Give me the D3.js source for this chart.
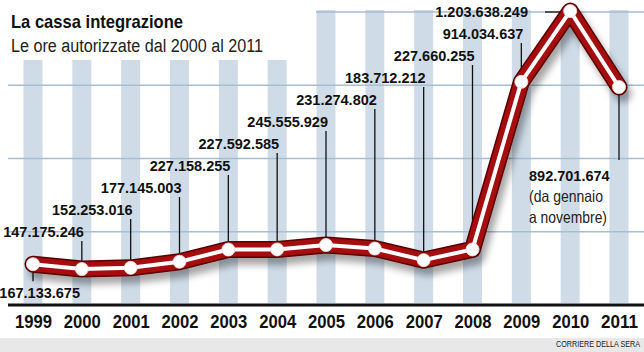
<!DOCTYPE html>
<html>
<head>
<meta charset="utf-8">
<script src="https://cdn.jsdelivr.net/npm/d3@7"></script>
<style>
  body { margin: 0; background: #fff; }
  svg { display: block; }
</style>
</head>
<body>
<div id="chart"></div>
<script>
// data
var years = [1999, 2000, 2001, 2002, 2003, 2004, 2005, 2006, 2007, 2008, 2009, 2010, 2011]
var hours = [167133675, 147175246, 152253016, 177145003, 227158255, 227592585, 245555929,
             231274802, 183712212, 227660255, 914034637, 1203638249, 892701674]
var labels = ['167.133.675', '147.175.246', '152.253.016', '177.145.003', '227.158.255', '227.592.585',
              '245.555.929', '231.274.802', '183.712.212', '227.660.255', '914.034.637', '1.203.638.249', '892.701.674']
var gridTicks = [300000000, 600000000, 900000000, 1200000000]
var title = 'La cassa integrazione'
var subtitle = 'Le ore autorizzate dal 2000 al 2011'
var note = ['(da gennaio', 'a novembre)']
var source = 'CORRIERE DELLA SERA'

var W = 644, H = 352
var FONT = '"Liberation Sans", Arial, sans-serif'

var svg = d3.select('#chart').append('svg')
  .attr('width', W).attr('height', H)

var defs = svg.append('defs')
var f = defs.append('filter').attr('id', 'shadow')
  .attr('x', '-10%').attr('y', '-10%').attr('width', '130%').attr('height', '140%')
f.append('feDropShadow').attr('dx', 4).attr('dy', 7).attr('stdDeviation', 3.5)
  .attr('flood-color', '#000').attr('flood-opacity', 0.35)

var x = d3.scalePoint().domain(years).range([33, 619])
var y = d3.scaleLinear().domain([0, 1200000000]).range([305, 12])

// light blue columns behind each year
svg.append('g').selectAll('rect')
  .data(years)
  .enter().append('rect')
    .attr('x', function(d) { return x(d) - 9.5 })
    .attr('y', 10)
    .attr('width', 19)
    .attr('height', y(0) - 12)
    .attr('fill', '#cfdce8')

// gridlines
svg.append('g').selectAll('line')
  .data(gridTicks)
  .enter().append('line')
    .attr('x1', 8).attr('x2', W)
    .attr('y1', function(d) { return y(d) })
    .attr('y2', function(d) { return y(d) })
    .attr('stroke', '#a7bdd2')
    .attr('stroke-width', 1.6)

// white box behind the titles
svg.append('rect').attr('x', 0).attr('y', 0).attr('width', 316).attr('height', 60).attr('fill', '#fff')

svg.append('text').attr('x', 11).attr('y', 28)
  .attr('font-family', FONT).attr('font-weight', 'bold').attr('font-size', 19)
  .attr('textLength', 172).attr('lengthAdjust', 'spacingAndGlyphs')
  .attr('fill', '#111').text(title)
svg.append('text').attr('x', 11).attr('y', 52)
  .attr('font-family', FONT).attr('font-size', 18)
  .attr('textLength', 252).attr('lengthAdjust', 'spacingAndGlyphs')
  .attr('fill', '#222').text(subtitle)

// baseline
svg.append('line').attr('x1', 8).attr('x2', W)
  .attr('y1', y(0)).attr('y2', y(0))
  .attr('stroke', '#111').attr('stroke-width', 3)

// year axis
var xAxis = svg.append('g')
  .attr('transform', 'translate(0,' + (y(0) + 2) + ')')
  .call(d3.axisBottom(x).tickSize(0).tickPadding(8).tickFormat(d3.format('d')))
xAxis.select('.domain').remove()
xAxis.selectAll('text')
  .attr('font-family', FONT).attr('font-weight', 'bold').attr('font-size', 18.5)
  .attr('textLength', 37).attr('lengthAdjust', 'spacingAndGlyphs')
  .attr('fill', '#111')

// leader lines and value labels
var pts = years.map(function(d, i) { return { year: d, v: hours[i], lab: labels[i], i: i } })
var lead = svg.append('g').attr('stroke', '#111').attr('stroke-width', 1.3)
var labG = svg.append('g')
  .attr('font-family', FONT).attr('font-weight', 'bold').attr('font-size', 14.5).attr('fill', '#111')

pts.forEach(function(p) {
  var px = x(p.year), py = y(p.v)
  if (p.i == 0) {
    lead.append('line').attr('x1', px).attr('x2', px).attr('y1', py).attr('y2', py + 17)
    labG.append('text').attr('x', px + 47).attr('y', py + 34).attr('text-anchor', 'end').text(p.lab)
  } else if (p.i == years.length - 1) {
    lead.append('line').attr('x1', px).attr('x2', px).attr('y1', py).attr('y2', py + 73)
    labG.append('text').attr('x', 529).attr('y', py + 94).text(p.lab)
    note.forEach(function(t, k) {
      svg.append('text').attr('x', 529).attr('y', py + 115 + k * 21)
        .attr('font-family', FONT).attr('font-size', 16.5)
        .attr('textLength', k == 0 ? 74 : 78).attr('lengthAdjust', 'spacingAndGlyphs')
        .attr('fill', '#222').text(t)
    })
  } else {
    var cy = 232 - (p.i - 1) * 22
    if (p.i == years.length - 2) {
      lead.append('line').attr('x1', 545).attr('x2', px).attr('y1', cy).attr('y2', cy)
      labG.append('text').attr('x', 528).attr('y', cy + 5).attr('text-anchor', 'end').text(p.lab)
    } else {
      lead.append('line').attr('x1', px).attr('x2', px).attr('y1', cy + 9).attr('y2', py)
      labG.append('text').attr('x', px + 2).attr('y', cy + 5).attr('text-anchor', 'end').text(p.lab)
    }
  }
})

// the double red line
var line = d3.line()
  .x(function(d) { return x(d.year) })
  .y(function(d) { return y(d.v) })

var lg = svg.append('g')
lg.append('path').datum(pts).attr('d', line)
  .attr('fill', 'none').attr('stroke', '#5a0303').attr('stroke-width', 17)
  .attr('stroke-linejoin', 'round').attr('stroke-linecap', 'round')
  .attr('filter', 'url(#shadow)')
lg.append('path').datum(pts).attr('d', line)
  .attr('fill', 'none').attr('stroke', '#a50d0f').attr('stroke-width', 14)
  .attr('stroke-linejoin', 'round').attr('stroke-linecap', 'round')
lg.append('path').datum(pts).attr('d', line)
  .attr('fill', 'none').attr('stroke', '#fff').attr('stroke-width', 4)
  .attr('stroke-linejoin', 'round')
lg.selectAll('circle').data(pts).enter().append('circle')
  .attr('cx', function(d) { return x(d.year) })
  .attr('cy', function(d) { return y(d.v) })
  .attr('r', 6.5)
  .attr('fill', '#fff')
  .attr('stroke', '#e4e4e4').attr('stroke-width', 0.8)

// footer band
svg.append('rect').attr('x', 0).attr('y', 338).attr('width', W).attr('height', H - 338).attr('fill', '#e8e8e8')
svg.append('text').attr('x', 640).attr('y', 347).attr('text-anchor', 'end')
  .attr('font-family', FONT).attr('font-size', 9)
  .attr('textLength', 84).attr('lengthAdjust', 'spacingAndGlyphs')
  .attr('fill', '#222').text(source)
</script>
</body>
</html>
